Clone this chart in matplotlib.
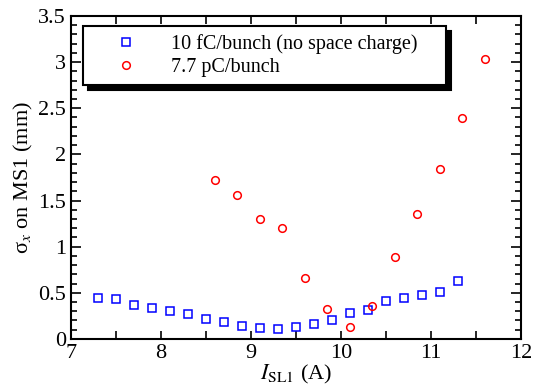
import matplotlib.pyplot as plt
from matplotlib.ticker import MultipleLocator

plt.rcParams['font.family'] = 'Liberation Serif'
plt.rcParams['mathtext.fontset'] = 'stix'

# 10 fC/bunch (no space charge)
x_low = [7.3, 7.5, 7.7, 7.9, 8.1, 8.3, 8.5, 8.7, 8.9, 9.1, 9.3,
         9.5, 9.7, 9.9, 10.1, 10.3, 10.5, 10.7, 10.9, 11.1, 11.3]
y_low = [0.44, 0.43, 0.37, 0.335, 0.30, 0.27, 0.22, 0.185, 0.14, 0.113, 0.11,
         0.127, 0.164, 0.21, 0.28, 0.31, 0.415, 0.44, 0.48, 0.51, 0.625]

# 7.7 pC/bunch
x_high = [8.6, 8.85, 9.1, 9.35, 9.6, 9.85, 10.1, 10.35, 10.6, 10.85, 11.1, 11.35, 11.6]
y_high = [1.72, 1.565, 1.30, 1.20, 0.66, 0.327, 0.127, 0.36, 0.887, 1.356, 1.844, 2.39, 3.036]

fig = plt.figure(figsize=(5.35, 3.9), dpi=100)
ax = fig.add_axes([0.1327, 0.131, 0.841, 0.828])

ax.plot(x_low, y_low, 's', mfc='none', mec='blue', ms=5.5, mew=1.1,
        label='10 fC/bunch (no space charge)')
ax.plot(x_high, y_high, 'o', mfc='none', mec='red', ms=5.5, mew=1.1,
        label='7.7 pC/bunch')

ax.set_xlim(7, 12)
ax.set_ylim(0, 3.5)
ax.xaxis.set_major_locator(MultipleLocator(1))
ax.xaxis.set_minor_locator(MultipleLocator(0.5))
ax.yaxis.set_minor_locator(MultipleLocator(0.1))
ax.set_yticks([0, 0.5, 1, 1.5, 2, 2.5, 3, 3.5])
ax.set_yticklabels(['0', '0.5', '1', '1.5', '2', '2.5', '3', '3.5'])

ax.tick_params(which='both', direction='in', top=True, right=True, labelsize=16, width=1.2)
ax.tick_params(axis='x', which='both', length=6, pad=4)
ax.tick_params(axis='y', which='major', length=7)
ax.tick_params(axis='y', which='minor', length=4)
for s in ax.spines.values():
    s.set_linewidth(1.5)

ax.set_xlabel(r'$I_{\mathrm{SL1}}$ (A)', fontsize=16, labelpad=0)
ax.set_ylabel('σ$_x$ on MS1 (mm)', fontsize=16, labelpad=2)

leg = ax.legend(loc='upper left', bbox_to_anchor=(0.027, 0.5, 0.807, 0.47), mode='expand',
                borderaxespad=0, fontsize=14.5, fancybox=False, handlelength=3.5,
                handletextpad=0.45, borderpad=0.4, labelspacing=0.2, framealpha=1,
                shadow={'ox': 3.5, 'oy': -3.5, 'facecolor': 'black', 'edgecolor': 'black', 'alpha': 1})
leg.get_frame().set_edgecolor('black')
leg.get_frame().set_linewidth(1.5)

fig.savefig('out.png', dpi=100)
